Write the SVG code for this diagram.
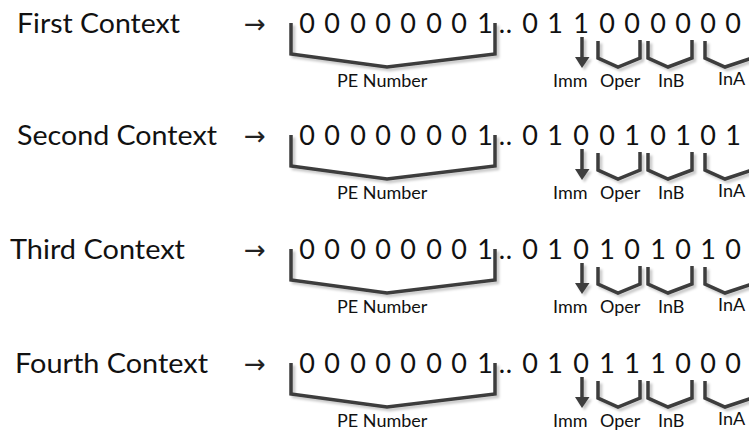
<svg xmlns="http://www.w3.org/2000/svg" xmlns:xlink="http://www.w3.org/1999/xlink" width="749" height="432" viewBox="0 0 749 432">
  <style>
    .title { font-family: Lato, "Liberation Sans", sans-serif; font-size: 27px; fill: #111; }
    .arrow { font-family: "DejaVu Sans", "Noto Sans", sans-serif; font-size: 26px; fill: #222; }
    .bits  { font-family: Lato, "Liberation Sans", sans-serif; font-size: 27px; fill: #111; text-anchor: middle; }
    .label { font-family: Lato, "Liberation Sans", sans-serif; font-size: 18px; fill: #111; }
    .brace { fill: none; stroke: #3d3d3d; stroke-width: 3.5; stroke-linejoin: miter; }
    .head  { fill: #3d3d3d; stroke: none; }
  </style>
  <defs>
    <filter id="shade" filterUnits="userSpaceOnUse" x="0" y="0" width="760" height="110">
      <feDropShadow dx="2.5" dy="2.5" stdDeviation="1" flood-color="#000" flood-opacity="0.22"/>
    </filter>
    <!-- one context word: bracket lines, pointer and field labels -->
    <g id="fields" filter="url(#shade)">
      <path class="brace" d="M291,23 V54 L387,67 L495,54 V23"/>
      <path class="brace" d="M582,37 V59"/>
      <path class="head" d="M575,57 L589.5,57 L582,68 Z"/>
      <path class="brace" d="M598,41 V58 L618,67 L640,58 V40"/>
      <path class="brace" d="M648,41 V58 L668,67 L692,58 V40"/>
      <path class="brace" d="M705,41 V58 L725,67 L752,58 V40"/>
    </g>
  </defs>

  <!-- First Context -->
  <g id="context-1">
    <text class="title" x="17" y="33" textLength="163" lengthAdjust="spacingAndGlyphs">First Context</text>
    <text class="arrow" x="244" y="33">→</text>
    <text class="bits" x="307 332 358 383 408 434 459 485 502 509 530 555 581 607 632 658 683 708 733" y="33">00000001..011000000</text>
    <text class="label" x="337" y="87">PE Number</text>
    <text class="label" x="553" y="87">Imm</text>
    <text class="label" x="600" y="87">Oper</text>
    <text class="label" x="658" y="87">InB</text>
    <text class="label" x="718" y="85">InA</text>
  </g>

  <!-- Second Context -->
  <g id="context-2" transform="translate(0 112)">
    <text class="title" x="17" y="33" textLength="200" lengthAdjust="spacingAndGlyphs">Second Context</text>
    <text class="arrow" x="244" y="33">→</text>
    <text class="bits" x="307 332 358 383 408 434 459 485 502 509 530 555 581 607 632 658 683 708 733" y="33">00000001..010010101</text>
    <text class="label" x="337" y="87">PE Number</text>
    <text class="label" x="553" y="87">Imm</text>
    <text class="label" x="600" y="87">Oper</text>
    <text class="label" x="658" y="87">InB</text>
    <text class="label" x="718" y="85">InA</text>
  </g>

  <!-- Third Context -->
  <g id="context-3" transform="translate(0 226)">
    <text class="title" x="10" y="33" textLength="175" lengthAdjust="spacingAndGlyphs">Third Context</text>
    <text class="arrow" x="244" y="33">→</text>
    <text class="bits" x="307 332 358 383 408 434 459 485 502 509 530 555 581 607 632 658 683 708 733" y="33">00000001..010101010</text>
    <text class="label" x="337" y="87">PE Number</text>
    <text class="label" x="553" y="87">Imm</text>
    <text class="label" x="600" y="87">Oper</text>
    <text class="label" x="658" y="87">InB</text>
    <text class="label" x="718" y="85">InA</text>
  </g>

  <!-- Fourth Context -->
  <g id="context-4" transform="translate(0 340)">
    <text class="title" x="15" y="33" textLength="193" lengthAdjust="spacingAndGlyphs">Fourth Context</text>
    <text class="arrow" x="244" y="33">→</text>
    <text class="bits" x="307 332 358 383 408 434 459 485 502 509 530 555 581 607 632 658 683 708 733" y="33">00000001..010111000</text>
    <text class="label" x="337" y="87">PE Number</text>
    <text class="label" x="553" y="87">Imm</text>
    <text class="label" x="600" y="87">Oper</text>
    <text class="label" x="658" y="87">InB</text>
    <text class="label" x="718" y="85">InA</text>
  </g>

  <!-- bracket and pointer lines for all four words -->
  <g id="connectors">
    <use xlink:href="#fields"/>
    <use xlink:href="#fields" transform="translate(0 112)"/>
    <use xlink:href="#fields" transform="translate(0 226)"/>
    <use xlink:href="#fields" transform="translate(0 340)"/>
  </g>
</svg>
